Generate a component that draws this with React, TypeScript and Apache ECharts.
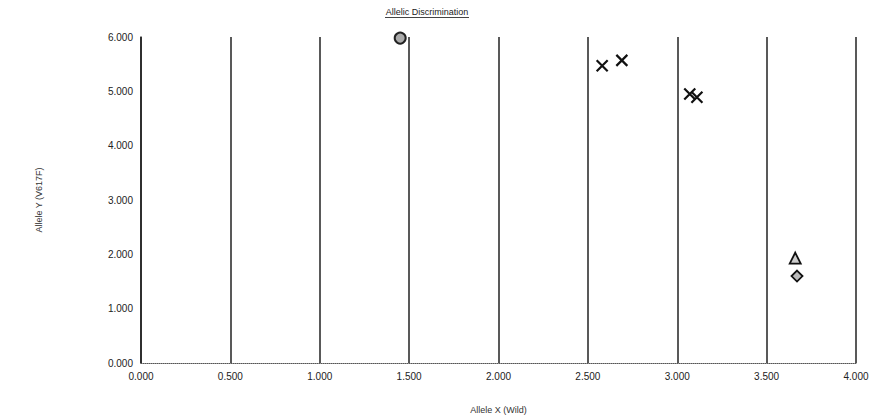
import React, { useEffect, useRef } from "react";
import * as echarts from "echarts";

const xTicks = [0, 0.5, 1, 1.5, 2, 2.5, 3, 3.5, 4];
const yTicks = [0, 1, 2, 3, 4, 5, 6];
const circlePts: [number, number][] = [[1.45, 5.98]];
const crossPts: [number, number][] = [
  [2.58, 5.47],
  [2.69, 5.57],
  [3.07, 4.95],
  [3.11, 4.89],
];
const trianglePts: [number, number][] = [[3.66, 1.93]];
const diamondPts: [number, number][] = [[3.67, 1.6]];

const FONT = "Liberation Sans";

export default function App() {
  const ref = useRef<HTMLDivElement>(null);
  useEffect(() => {
    if (!ref.current) return;
    const chart = echarts.init(ref.current, undefined, { renderer: "svg" });
    chart.setOption({
      animation: false,
      backgroundColor: "#fff",
      title: {
        text: "Allelic Discrimination",
        left: 427,
        textAlign: "center",
        top: 7,
        padding: 0,
        textStyle: { fontFamily: FONT, fontSize: 9, fontWeight: "normal", color: "#222" },
      },
      graphic: [
        {
          type: "line",
          shape: { x1: 385, y1: 17.5, x2: 469, y2: 17.5 },
          style: { stroke: "#444", lineWidth: 1 },
        },
      ],
      grid: { left: 141, right: 16, top: 37, bottom: 54 },
      xAxis: {
        type: "value",
        min: xTicks[0],
        max: xTicks[xTicks.length - 1],
        interval: 0.5,
        name: "Allele X (Wild)",
        nameLocation: "middle",
        nameGap: 42,
        nameTextStyle: { fontFamily: FONT, fontSize: 9, color: "#333" },
        axisLine: { show: true, lineStyle: { color: "#555", width: 1, type: "dotted" } },
        axisTick: { show: false },
        splitLine: { show: true, lineStyle: { color: "#222", width: 1.5 } },
        axisLabel: {
          fontFamily: FONT,
          fontSize: 10,
          color: "#222",
          margin: 8,
          formatter: (v: number) => v.toFixed(3),
        },
      },
      yAxis: {
        type: "value",
        min: yTicks[0],
        max: yTicks[yTicks.length - 1],
        interval: 1,
        name: "Allele Y (V617F)",
        nameLocation: "middle",
        nameGap: 98,
        nameRotate: 90,
        nameTextStyle: { fontFamily: FONT, fontSize: 9, color: "#333" },
        axisLine: { show: true, lineStyle: { color: "#222", width: 1.5 } },
        axisTick: { show: false },
        splitLine: { show: false },
        axisLabel: {
          fontFamily: FONT,
          fontSize: 10,
          color: "#222",
          margin: 8,
          formatter: (v: number) => v.toFixed(3),
        },
      },
      series: [
        {
          type: "scatter",
          data: circlePts,
          symbol: "circle",
          symbolSize: 11,
          itemStyle: { color: "#aaa", borderColor: "#222", borderWidth: 2, opacity: 1 },
        },
        {
          type: "scatter",
          data: crossPts,
          symbol: "path://M0,0L10,10M10,0L0,10",
          symbolSize: 11,
          itemStyle: { color: "none", borderColor: "#111", borderWidth: 2.2, opacity: 1 },
        },
        {
          type: "scatter",
          data: trianglePts,
          symbol: "triangle",
          symbolSize: 11,
          itemStyle: { color: "#ccc", borderColor: "#111", borderWidth: 1.8, opacity: 1 },
        },
        {
          type: "scatter",
          data: diamondPts,
          symbol: "diamond",
          symbolSize: 11,
          itemStyle: { color: "#bbb", borderColor: "#111", borderWidth: 1.8, opacity: 1 },
        },
      ],
    });
    return () => chart.dispose();
  }, []);
  return (
    <div
      ref={ref}
      style={{ position: "fixed", left: 0, top: 0, width: 872, height: 419 }}
    />
  );
}
